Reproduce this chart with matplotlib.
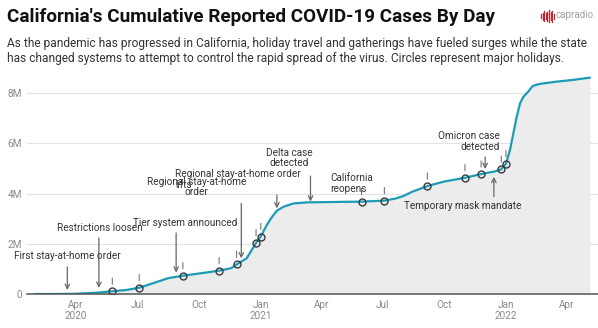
import matplotlib
matplotlib.use('Agg')
import matplotlib.pyplot as plt
from matplotlib.lines import Line2D
import numpy as np
import pandas as pd

plt.rcParams['font.family'] = ['Roboto', 'DejaVu Sans']

#%%%%%%%%%%%%%%%%%%%%%% Data %%%%%%%%%%%%%%%%%%%%%%%%%%%%%%%%%

dates = pd.to_datetime([
    '2020-01-30', '2020-03-01', '2020-04-01', '2020-05-01', '2020-05-25',
    '2020-06-15', '2020-07-04', '2020-07-27', '2020-08-16', '2020-09-07',
    '2020-10-05', '2020-10-31', '2020-11-18', '2020-11-26', '2020-12-11',
    '2020-12-25', '2021-01-01', '2021-01-10', '2021-01-18', '2021-01-25',
    '2021-02-04', '2021-02-19', '2021-03-11', '2021-04-04', '2021-05-01',
    '2021-05-31', '2021-07-04', '2021-07-20', '2021-08-01', '2021-08-15',
    '2021-09-06', '2021-10-01', '2021-11-01', '2021-11-25', '2021-12-15',
    '2021-12-25', '2022-01-01', '2022-01-07', '2022-01-12', '2022-01-17',
    '2022-01-22', '2022-01-27', '2022-02-03', '2022-02-10', '2022-02-20',
    '2022-03-17', '2022-04-11', '2022-05-06'])

# cumulative cases, millions
cases = np.array([
    0.0, 0.0, 0.01, 0.05, 0.11,
    0.16, 0.25, 0.45, 0.63, 0.73,
    0.83, 0.93, 1.03, 1.18, 1.42,
    2.04, 2.29, 2.75, 3.08, 3.32,
    3.48, 3.61, 3.65, 3.66, 3.67,
    3.68, 3.72, 3.80, 3.90, 4.08,
    4.30, 4.48, 4.63, 4.78, 4.88,
    4.97, 5.19, 5.74, 6.40, 7.06,
    7.60, 7.86, 8.06, 8.29, 8.37,
    8.46, 8.53, 8.62])

# major holidays (circles)
holidays = pd.to_datetime([
    '2020-05-25', '2020-07-04', '2020-09-07', '2020-10-31', '2020-11-26',
    '2020-12-25', '2021-01-01', '2021-05-31', '2021-07-04', '2021-09-06',
    '2021-11-01', '2021-11-25', '2021-12-25', '2022-01-01'])

# events: label, arrow date, arrow start / end (millions), text date, text y, alignment
events = [
    ('First stay-at-home order', '2020-03-19', 1.08, 0.16, '2020-03-19', 1.51, 'center'),
    ('Restrictions loosen', '2020-05-05', 2.23, 0.24, '2020-05-07', 2.63, 'center'),
    ('Tier system announced', '2020-08-28', 2.43, 0.85, '2020-09-10', 2.82, 'center'),
    ('Regional stay-at-home\norder', '2020-12-03', 3.61, 1.42, '2020-09-27', 4.26, 'center'),
    ('Regional stay-at-home order\nlifts', '2021-01-25', 3.94, 3.41, '2020-08-26', 4.57, 'left'),
    ('Delta case\ndetected', '2021-03-16', 4.70, 3.68, '2021-02-12', 5.42, 'center'),
    ('California\nreopens', None, None, None, '2021-04-14', 4.40, 'left'),
    ('Omicron case\ndetected', '2021-12-01', 5.46, 4.98, '2021-12-23', 6.08, 'right'),
    ('Temporary mask mandate', '2021-12-14', 3.88, 4.67, '2021-08-02', 3.52, 'left'),
]

yticks = [0, 2, 4, 6, 8]
ylabels = ['0', '2M', '4M', '6M', '8M']
xticks = pd.to_datetime(['2020-04-01', '2020-07-01', '2020-10-01', '2021-01-01',
                         '2021-04-01', '2021-07-01', '2021-10-01', '2022-01-01',
                         '2022-04-01'])
xlabels = ['Apr\n2020', 'Jul', 'Oct', 'Jan\n2021', 'Apr', 'Jul', 'Oct', 'Jan\n2022', 'Apr']

title = "California's Cumulative Reported COVID-19 Cases By Day"
subtitle = ('As the pandemic has progressed in California, holiday travel and gatherings have fueled surges while the state\n'
            'has changed systems to attempt to control the rapid spread of the virus. Circles represent major holidays.')

#%%%%%%%%%%%%%%%%%%%%%% Plot %%%%%%%%%%%%%%%%%%%%%%%%%%%%%%%%%

W, H = 598, 328
fig = plt.figure(figsize=(W / 100, H / 100), dpi=100)
ax = fig.add_axes([27 / W, 1 - 294 / H, 1 - 27 / W, 224 / H])

line_c = '#1b9bb6'
txt_c = '#333333'
arrow_c = '#666666'

ax.fill_between(dates, cases, 0, color='#ececec', lw=0, zorder=1)
ax.plot(dates, cases, color=line_c, lw=1.6, zorder=3, solid_capstyle='round',
        solid_joinstyle='round')

# holiday circles and the small tick above each
hol_vals = [cases[list(dates).index(d)] for d in holidays]
ax.plot(holidays, hol_vals, ls='none', marker='o', ms=5, mfc='none', mec='#3a3a3a',
        mew=1.0, zorder=4)
for d, v in zip(holidays, hol_vals):
    ax.annotate('', xy=(d, v), xytext=(0, 9.5), textcoords='offset points',
                arrowprops=dict(arrowstyle='-', color='#777777', lw=0.8,
                                shrinkA=0, shrinkB=5))

for label, adate, y0, y1, tdate, ty, ha in events:
    if adate is not None:
        ax.annotate('', xy=(pd.Timestamp(adate), y1), xytext=(pd.Timestamp(adate), y0),
                    arrowprops=dict(arrowstyle='->', color=arrow_c, lw=0.9,
                                    shrinkA=0, shrinkB=0, mutation_scale=8))
    ax.text(pd.Timestamp(tdate), ty, label, ha=ha, va='center', fontsize=7.2,
            color=txt_c, linespacing=1.1, multialignment=ha, zorder=5)

ax.set_ylim(0, 224 / 25.1)
ax.set_xlim(pd.Timestamp('2020-01-19'), pd.Timestamp('2022-05-18'))
ax.set_yticks(yticks)
ax.set_yticklabels(ylabels)
ax.set_xticks(xticks)
ax.set_xticklabels(xlabels)
ax.tick_params(axis='both', length=0, labelsize=7.2, labelcolor='#8a8a8a')
ax.tick_params(axis='y', pad=3.5)
ax.tick_params(axis='x', pad=4)
ax.grid(axis='y', color='#e2e2e2', lw=0.8)
ax.set_axisbelow(True)
for s in ['left', 'right', 'top']:
    ax.spines[s].set_visible(False)
ax.spines['bottom'].set_color('#555555')
ax.spines['bottom'].set_linewidth(1.1)
ax.spines['bottom'].set_zorder(6)

fig.text(7 / W, 1 - 17 / H, title, fontsize=13.6, fontweight='bold', color='#111111',
         va='center', ha='left')
fig.text(7 / W, 1 - 51 / H, subtitle, fontsize=8.6, color='#333333', va='center',
         ha='left', linespacing=1.15)

# capradio logo
bar_h = [4, 7, 10, 6, 9, 12, 8, 11, 5]
for i, h in enumerate(bar_h):
    x = (541 + i * 1.6) / W
    fig.add_artist(Line2D([x, x], [1 - (16 + h / 2) / H, 1 - (16 - h / 2) / H],
                          color='#c0262d', lw=0.9))
fig.text(556 / W, 1 - 15 / H, 'capradio', fontsize=7, color='#a0a0a0', va='center',
         ha='left')

plt.savefig('out.png', dpi=100)
